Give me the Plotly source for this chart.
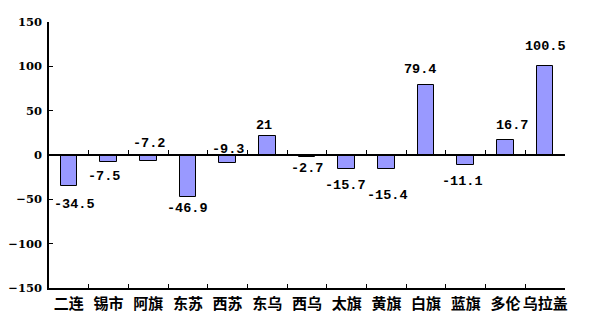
import plotly.graph_objects as go

# Regions and their year-on-year change (%)
regions = ["二连", "锡市", "阿旗", "东苏", "西苏", "东乌", "西乌",
           "太旗", "黄旗", "白旗", "蓝旗", "多伦", "乌拉盖"]
changes = [-34.5, -7.5, -7.2, -46.9, -9.3, 21, -2.7,
           -15.7, -15.4, 79.4, -11.1, 16.7, 100.5]
y_ticks = [-150, -100, -50, 0, 50, 100, 150]

# Hand-placed label offsets (pixels) relative to each bar end
label_dx = [6, -4.5, 1, -0.3, 0, -3.3, 0, -1, 1.3, -6.5, -3, 7, 0.5]
label_dy = [-18.5, -15, 17.4, -12, 13.3, 11.2, -11.6, -17, -26.5, 15.4, -16.6, 15, 19.6]

NUM_FONT = "Liberation Mono"
TICK_FONT = "DejaVu Serif"
CJK_FONT = "Noto Sans CJK SC"

fig = go.Figure()
fig.add_trace(go.Bar(
    x=regions, y=changes, width=0.42,
    marker=dict(color="#9999FF", line=dict(color="black", width=1)),
    hoverinfo="x+y",
))
# invisible trace carrying the zero-line axis
n = len(regions)
fig.add_trace(go.Scatter(x=[-0.5, n - 0.5], y=[0, 0], xaxis="x2", mode="lines",
                         line=dict(width=0), hoverinfo="skip", showlegend=False))

for i, (r, v) in enumerate(zip(regions, changes)):
    fig.add_annotation(
        x=r, y=v, text=f"{v:g}", showarrow=False,
        xanchor="center", yanchor="middle",
        xshift=label_dx[i], yshift=label_dy[i],
        font=dict(family=NUM_FONT, size=13.5, color="black", weight="bold"),
    )

fig.update_layout(
    width=596, height=334,
    margin=dict(l=49, r=31, t=22, b=46),
    paper_bgcolor="white", plot_bgcolor="white",
    showlegend=False,
    bargap=0,
    xaxis=dict(
        type="category", range=[-0.5, n - 0.5],
        showline=True, linecolor="black", linewidth=1.5,
        ticks="inside", ticklen=4, tickcolor="black", tickwidth=1,
        tickson="boundaries", showgrid=False, zeroline=False,
        tickangle=0, automargin=False,
        tickfont=dict(family=CJK_FONT, size=15, color="black", weight="bold"),
        ticklabelstandoff=1,
    ),
    xaxis2=dict(
        overlaying="x", anchor="free", position=0.5,
        range=[-0.5, n - 0.5],
        showline=True, linecolor="black", linewidth=1.5,
        ticks="inside", ticklen=4, tickcolor="black", tickwidth=1,
        tickvals=[i + 0.5 for i in range(n)],
        showticklabels=False, showgrid=False, zeroline=False,
    ),
    yaxis=dict(
        range=[-150, 150], tickvals=y_ticks,
        ticktext=[str(t).replace("-", "−") for t in y_ticks],
        showline=True, linecolor="black", linewidth=1.5,
        ticks="inside", ticklen=4, tickcolor="black", tickwidth=1,
        showgrid=False, zeroline=False, automargin=False,
        tickfont=dict(family=TICK_FONT, size=11.5, color="black", weight="bold"),
        ticklabelstandoff=3,
    ),
)

fig.write_html("out.html")
